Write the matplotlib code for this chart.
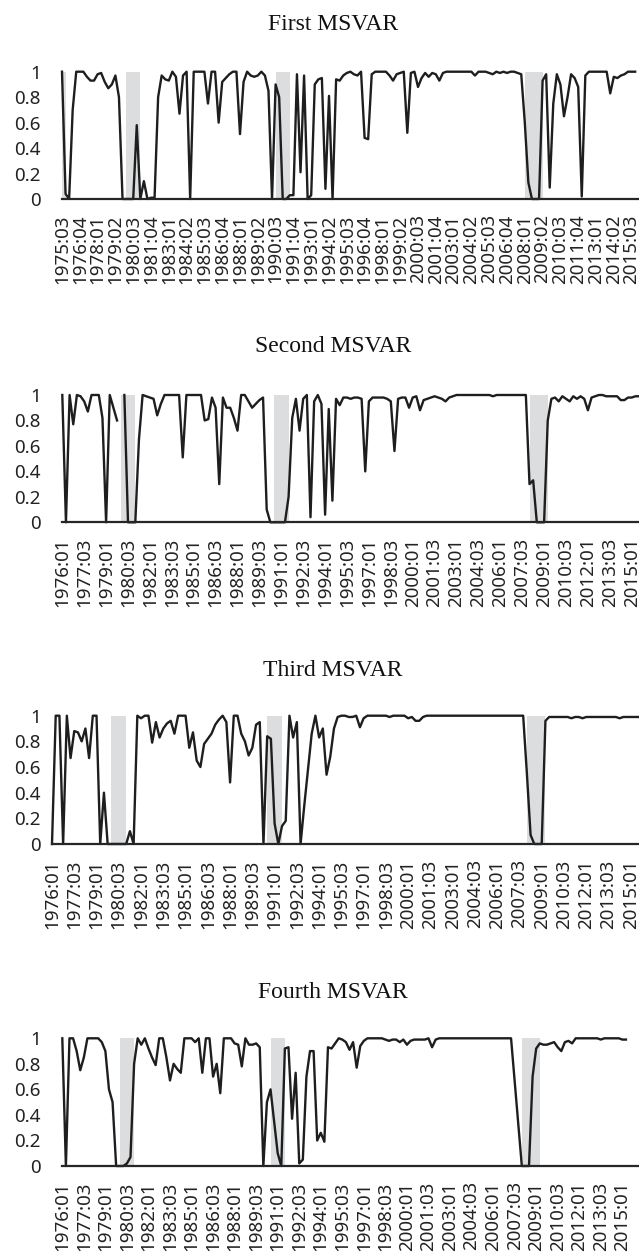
import numpy as np
import matplotlib
matplotlib.use("Agg")
import matplotlib.pyplot as plt

# --- data (regime probabilities, one value per quarter) ---
FIRST_START = "1975:03"
FIRST = [
    1.0, 0.04, 0.0, 0.7, 1.0, 1.0, 1.0, 0.96, 0.93, 0.93,
    0.98, 0.99, 0.92, 0.87, 0.9, 0.97, 0.8, 0.0, 0.0, 0.0,
    0.0, 0.58, 0.0, 0.14, 0.0, 0.01, 0.01, 0.8, 0.97, 0.94,
    0.93, 1.0, 0.96, 0.67, 0.97, 1.0, 0.0, 1.0, 1.0, 1.0,
    1.0, 0.75, 1.0, 1.0, 0.6, 0.92, 0.95, 0.98, 1.0, 1.0,
    0.51, 0.92, 1.0, 0.97, 0.96, 0.97, 1.0, 0.97, 0.85, 0.0,
    0.9, 0.8, 0.0, 0.0, 0.03, 0.03, 0.98, 0.21, 0.97, 0.0,
    0.03, 0.9, 0.94, 0.95, 0.08, 0.81, 0.0, 0.94, 0.93, 0.97,
    0.99, 1.0, 0.98, 0.97, 1.0, 0.48, 0.47, 0.98, 1.0, 1.0,
    1.0, 1.0, 0.97, 0.93, 0.98, 0.99, 1.0, 0.52, 0.99, 1.0,
    0.88, 0.95, 0.99, 0.96, 0.99, 0.98, 0.93, 0.99, 1.0, 1.0,
    1.0, 1.0, 1.0, 1.0, 1.0, 1.0, 0.97, 1.0, 1.0, 1.0,
    0.99, 0.98, 1.0, 0.99, 1.0, 0.99, 1.0, 1.0, 0.99, 0.98,
    0.6, 0.13, 0.0, 0.0, 0.0, 0.93, 0.98, 0.09, 0.75, 0.98,
    0.9, 0.65, 0.8, 0.98, 0.95, 0.88, 0.02, 0.97, 1.0, 1.0,
    1.0, 1.0, 1.0, 1.0, 0.83, 0.96, 0.95, 0.97, 0.98, 1.0,
    1.0, 1.0,
]

SECOND_START = "1976:01"
SECOND = [
    1.0, 0.0, 1.0, 0.77, 1.0, 0.99, 0.95, 0.87, 1.0, 1.0,
    1.0, 0.82, 0.0, 1.0, 0.9, 0.8, np.nan, 1.0, 0.0, 0.0,
    0.0, 0.65, 1.0, 0.99, 0.98, 0.97, 0.84, 0.93, 1.0, 1.0,
    1.0, 1.0, 1.0, 0.51, 1.0, 1.0, 1.0, 1.0, 1.0, 0.8,
    0.81, 0.98, 0.9, 0.3, 0.98, 0.9, 0.9, 0.82, 0.72, 1.0,
    1.0, 0.95, 0.9, 0.93, 0.96, 0.98, 0.1, 0.0, 0.0, 0.0,
    0.0, 0.0, 0.2, 0.82, 0.97, 0.72, 0.97, 1.0, 0.04, 0.95,
    1.0, 0.93, 0.06, 0.89, 0.17, 0.97, 0.92, 0.98, 0.98, 0.97,
    0.98, 0.98, 0.97, 0.4, 0.95, 0.98, 0.98, 0.98, 0.98, 0.97,
    0.95, 0.56, 0.97, 0.98, 0.98, 0.9, 0.98, 0.99, 0.88, 0.96,
    0.97, 0.98, 0.99, 0.98, 0.97, 0.95, 0.98, 0.99, 1.0, 1.0,
    1.0, 1.0, 1.0, 1.0, 1.0, 1.0, 1.0, 1.0, 0.99, 1.0,
    1.0, 1.0, 1.0, 1.0, 1.0, 1.0, 1.0, 1.0, 0.3, 0.33,
    0.0, 0.0, 0.0, 0.8, 0.97, 0.98, 0.95, 0.99, 0.97, 0.95,
    0.99, 0.97, 0.99, 0.97, 0.88, 0.98, 0.99, 1.0, 1.0, 0.99,
    0.99, 0.99, 0.99, 0.96, 0.96, 0.98, 0.98, 0.99, 0.99,
]

THIRD_START = "1976:01"
THIRD = [
    0.0, 1.0, 1.0, 0.0, 1.0, 0.67, 0.88, 0.87, 0.8, 0.9,
    0.67, 1.0, 1.0, 0.0, 0.4, 0.0, 0.0, 0.0, 0.0, 0.0,
    0.0, 0.1, 0.0, 1.0, 0.98, 1.0, 1.0, 0.79, 0.95, 0.83,
    0.9, 0.94, 0.96, 0.86, 1.0, 1.0, 1.0, 0.75, 0.87, 0.65,
    0.6, 0.78, 0.82, 0.86, 0.93, 0.97, 1.0, 0.95, 0.48, 1.0,
    1.0, 0.86, 0.8, 0.69, 0.75, 0.93, 0.95, 0.0, 0.84, 0.82,
    0.16, 0.0, 0.14, 0.18, 1.0, 0.83, 0.95, 0.0, 0.3, 0.58,
    0.86, 1.0, 0.83, 0.9, 0.54, 0.68, 0.9, 0.99, 1.0, 1.0,
    0.99, 0.99, 1.0, 0.91, 0.98, 1.0, 1.0, 1.0, 1.0, 1.0,
    1.0, 0.99, 1.0, 1.0, 1.0, 1.0, 0.98, 0.99, 0.96, 0.96,
    0.99, 1.0, 1.0, 1.0, 1.0, 1.0, 1.0, 1.0, 1.0, 1.0,
    1.0, 1.0, 1.0, 1.0, 1.0, 1.0, 1.0, 1.0, 1.0, 1.0,
    1.0, 1.0, 1.0, 1.0, 1.0, 1.0, 1.0, 1.0, 0.55, 0.07,
    0.0, 0.0, 0.0, 0.96, 0.99, 0.99, 0.99, 0.99, 0.99, 0.99,
    0.98, 0.99, 0.99, 0.98, 0.99, 0.99, 0.99, 0.99, 0.99, 0.99,
    0.99, 0.99, 0.99, 0.98, 0.99, 0.99, 0.99, 0.99, 0.99,
]

FOURTH_START = "1976:01"
FOURTH = [
    1.0, 0.0, 1.0, 1.0, 0.9, 0.75, 0.85, 1.0, 1.0, 1.0,
    1.0, 0.97, 0.9, 0.6, 0.5, 0.0, 0.0, 0.0, 0.02, 0.07,
    0.8, 1.0, 0.95, 1.0, 0.92, 0.85, 0.79, 1.0, 1.0, 0.85,
    0.67, 0.8, 0.76, 0.73, 1.0, 1.0, 1.0, 0.97, 1.0, 0.73,
    1.0, 1.0, 0.7, 0.8, 0.57, 1.0, 1.0, 1.0, 0.96, 0.95,
    0.78, 1.0, 0.95, 0.95, 0.96, 0.93, 0.0, 0.5, 0.6, 0.35,
    0.1, 0.0, 0.92, 0.93, 0.37, 0.73, 0.02, 0.05, 0.7, 0.9,
    0.9, 0.2, 0.26, 0.19, 0.93, 0.92, 0.96, 1.0, 0.99, 0.97,
    0.91, 0.97, 0.77, 0.94, 0.98, 1.0, 1.0, 1.0, 1.0, 1.0,
    0.99, 0.98, 0.99, 0.99, 0.97, 0.99, 0.95, 0.98, 0.99, 0.99,
    0.99, 0.99, 1.0, 0.93, 0.99, 1.0, 1.0, 1.0, 1.0, 1.0,
    1.0, 1.0, 1.0, 1.0, 1.0, 1.0, 1.0, 1.0, 1.0, 1.0,
    1.0, 1.0, 1.0, 1.0, 1.0, 1.0, 0.67, 0.33, 0.0, 0.0,
    0.0, 0.7, 0.92, 0.96, 0.95, 0.95, 0.96, 0.97, 0.93, 0.9,
    0.97, 0.98, 0.96, 1.0, 1.0, 1.0, 1.0, 1.0, 1.0, 1.0,
    0.99, 1.0, 1.0, 1.0, 1.0, 1.0, 0.99, 0.99,
]

TITLES = ["First MSVAR", "Second MSVAR", "Third MSVAR", "Fourth MSVAR"]
SERIES = [FIRST, SECOND, THIRD, FOURTH]
STARTS = [FIRST_START, SECOND_START, THIRD_START, FOURTH_START]
TICK_STEP = [5, 6, 6, 6]   # one label every n quarters

# recession bands (shaded)
RECESSIONS = [("1975:01", "1975:04"), ("1980:01", "1981:01"),
              ("1990:03", "1991:03"), ("2008:01", "2009:02")]

LINE = "#1e1e1e"
BAND = "#dcdddf"
TICK_FONT = "Noto Sans"
TITLE_FONT = "Liberation Serif"

# layout in pixels: (x at first quarter, px per quarter, y of 1, y of 0, title y)
LAYOUT = [
    (62.0, 3.56, 71.7, 199.0, 25.0),
    (62.3, 3.65, 395.0, 522.3, 347.0),
    (52.0, 3.71, 715.7, 844.0, 670.0),
    (62.3, 3.59, 1038.3, 1166.0, 992.0),
]

W, H = 639, 1255


def parse_q(s):
    y, q = s.split(":")
    return int(y), int(q)


def q_index(label, start):
    y, q = parse_q(label)
    y0, q0 = parse_q(start)
    return (y - y0) * 4 + (q - q0)


def q_labels(start, n):
    y, q = parse_q(start)
    out = []
    for _ in range(n):
        out.append(f"{y}:{q:02d}")
        q += 1
        if q > 4:
            q = 1
            y += 1
    return out


fig = plt.figure(figsize=(W / 100, H / 100), dpi=100)

for title, vals, start, step, (x0, ppq, y1, y0, ty) in zip(
        TITLES, SERIES, STARTS, TICK_STEP, LAYOUT):
    ax = fig.add_axes([x0 / W, 1 - y0 / H, (W - x0) / W, (y0 - y1) / H])
    xmax = (W - x0) / ppq

    for s, e in RECESSIONS:
        ax.axvspan(q_index(s, start), q_index(e, start), color=BAND, lw=0, zorder=0)

    x = np.arange(len(vals))
    ax.plot(x, vals, color=LINE, lw=1.7, clip_on=False, zorder=3)

    ax.set_xlim(0, xmax)
    ax.set_ylim(0, 1)

    for side in ["top", "right", "left"]:
        ax.spines[side].set_visible(False)
    ax.spines["bottom"].set_color("#262626")
    ax.spines["bottom"].set_linewidth(1.6)
    ax.spines["bottom"].set_zorder(4)

    yt = [0, 0.2, 0.4, 0.6, 0.8, 1.0]
    ax.set_yticks(yt)
    ax.set_yticklabels(["0", "0.2", "0.4", "0.6", "0.8", "1"],
                       family=TICK_FONT, fontsize=13.5, color="#222222")

    n_lab = int(xmax) + 1
    labs = q_labels(start, n_lab)
    pos = list(range(0, n_lab, step))
    ax.set_xticks(pos)
    ax.set_xticklabels([labs[p] for p in pos], rotation=90,
                       family=TICK_FONT, fontsize=13.5, color="#222222")

    ax.tick_params(axis="x", length=0, pad=11)
    ax.tick_params(axis="y", length=0, pad=(x0 - 41) * 0.72)

    fig.text(333 / W, 1 - ty / H, title, ha="center", va="center",
             family=TITLE_FONT, fontsize=17, color="#111111")

fig.savefig("out.png", dpi=100)
